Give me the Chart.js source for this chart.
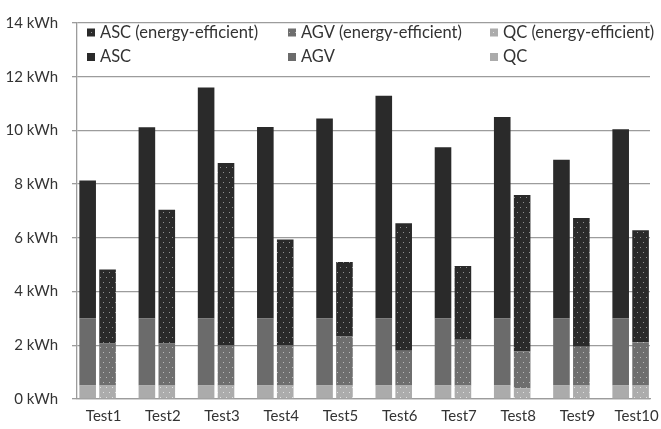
<!DOCTYPE html>
<html>
<head>
<meta charset="utf-8">
<script src="https://cdn.jsdelivr.net/npm/chart.js@4.4.1/dist/chart.umd.min.js"></script>
<style>
  html, body { margin: 0; padding: 0; background: #fff; }
  #wrap { width: 661px; height: 429px; }
</style>
</head>
<body>
<div id="wrap"><canvas id="energie"></canvas></div>
<script>
const tests = ['Test1', 'Test2', 'Test3', 'Test4', 'Test5', 'Test6', 'Test7', 'Test8', 'Test9', 'Test10'];

// standard operation (kWh)
const qc = [0.5, 0.5, 0.5, 0.5, 0.5, 0.5, 0.5, 0.5, 0.5, 0.5];
const agv = [2.5, 2.5, 2.5, 2.5, 2.5, 2.5, 2.5, 2.5, 2.5, 2.5];
const asc = [5.14, 7.12, 8.6, 7.13, 7.44, 8.29, 6.37, 7.5, 5.91, 7.04];

// energy-efficient operation (kWh)
const qcEff = [0.5, 0.5, 0.5, 0.5, 0.5, 0.5, 0.5, 0.4, 0.5, 0.5];
const agvEff = [1.57, 1.57, 1.49, 1.49, 1.83, 1.3, 1.71, 1.38, 1.45, 1.61];
const ascEff = [2.75, 4.98, 6.8, 3.95, 2.77, 4.74, 2.74, 5.82, 4.79, 4.17];

const yTicks = [0, 2, 4, 6, 8, 10, 12, 14];

const police = "Lato, 'Open Sans', sans-serif";
const gris = '#9c9c9c';

function motif(fond, point) {
  const c = document.createElement('canvas');
  c.width = 6;
  c.height = 10;
  const g = c.getContext('2d');
  g.fillStyle = fond;
  g.fillRect(0, 0, 6, 10);
  g.fillStyle = point;
  g.fillRect(1, 2, 1, 1);
  g.fillRect(4, 7, 1, 1);
  return g.createPattern(c, 'repeat');
}

const couleurs = {
  asc: '#2a2a2a',
  agv: '#6b6b6b',
  qc: '#ababab',
  ascEff: motif('#2a2a2a', '#909090'),
  agvEff: motif('#6e6e6e', '#b8b8b8'),
  qcEff: motif('#acacac', '#e0e0e0'),
};

function points(valeurs) {
  return valeurs.map((v, i) => ({ x: i, y: v }));
}

const series = [
  { label: 'QC', data: qc, couleur: couleurs.qc, stack: 'std' },
  { label: 'AGV', data: agv, couleur: couleurs.agv, stack: 'std' },
  { label: 'ASC', data: asc, couleur: couleurs.asc, stack: 'std' },
  { label: 'QC (energy-efficient)', data: qcEff, couleur: couleurs.qcEff, stack: 'eff' },
  { label: 'AGV (energy-efficient)', data: agvEff, couleur: couleurs.agvEff, stack: 'eff' },
  { label: 'ASC (energy-efficient)', data: ascEff, couleur: couleurs.ascEff, stack: 'eff' },
];

// legend drawn inside the plot, 3 columns x 2 rows like the original
const ordreLegende = [
  ['ASC (energy-efficient)', 'AGV (energy-efficient)', 'QC (energy-efficient)'],
  ['ASC', 'AGV', 'QC'],
];
const legendePlugin = {
  id: 'legendeInterne',
  afterDraw(chart) {
    const ctx = chart.ctx;
    const colX = [87, 288, 490];
    const rowY = [32.5, 57];
    ctx.save();
    ctx.font = '16.5px ' + police;
    ctx.textBaseline = 'middle';
    ordreLegende.forEach((ligne, r) => {
      ligne.forEach((nom, c) => {
        const ds = chart.data.datasets.find(d => d.label === nom);
        ctx.fillStyle = ds.backgroundColor;
        ctx.fillRect(colX[c], rowY[r] - 4, 8, 8);
        ctx.fillStyle = '#333';
        ctx.fillText(nom, colX[c] + 13, rowY[r]);
      });
    });
    ctx.restore();
  },
};

const ctx = document.getElementById('energie').getContext('2d');

const graphique = new Chart(ctx, {
  type: 'bar',
  data: {
    datasets: series.map(s => ({
      label: s.label,
      data: points(s.data),
      backgroundColor: s.couleur,
      borderWidth: 0,
      stack: s.stack,
      categoryPercentage: 0.672,
      barPercentage: 0.834,
    })),
  },
  options: {
    responsive: true,
    maintainAspectRatio: false,
    animation: false,
    layout: { padding: { top: 16, right: 11, left: 0, bottom: 0 } },
    plugins: {
      legend: { display: false },
      tooltip: { enabled: false },
    },
    scales: {
      x: {
        type: 'linear',
        offset: false,
        min: -0.348,
        max: 9.327,
        stacked: true,
        grid: { display: false },
        border: { display: true, color: gris, width: 1.3 },
        afterFit: s => { s.height = 30; },
        afterBuildTicks: s => { s.ticks = tests.map((_, i) => ({ value: i })); },
        ticks: {
          autoSkip: false,
          maxRotation: 0,
          padding: 0,
          labelOffset: 6,
          color: '#333',
          font: { family: police, size: 15 },
          callback: v => tests[v],
        },
      },
      y: {
        min: 0,
        max: 14,
        stacked: true,
        afterFit: s => { s.width = 77; },
        afterBuildTicks: s => { s.ticks = yTicks.map(v => ({ value: v })); },
        grid: { color: gris, lineWidth: 1.3, tickLength: 5 },
        border: { display: true, color: gris, width: 1.3 },
        ticks: {
          padding: 14,
          color: '#333',
          font: { family: police, size: 15 },
          callback: v => v + ' kWh',
        },
      },
    },
  },
  plugins: [legendePlugin],
});
</script>
</body>
</html>
